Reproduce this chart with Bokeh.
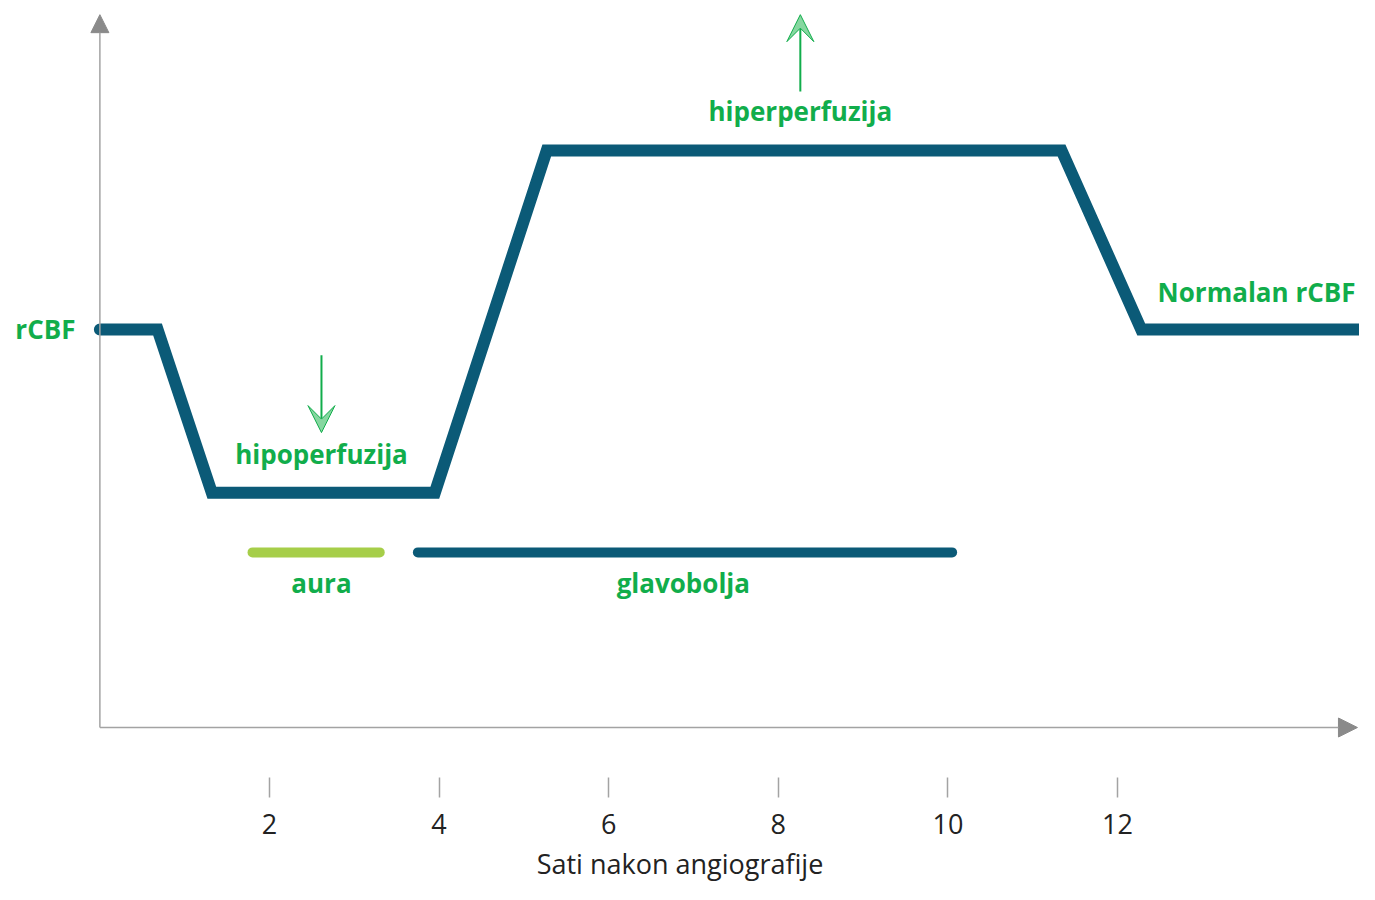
from bokeh.plotting import figure
from bokeh.models import Range1d, Arrow, VeeHead, NormalHead, Label, FixedTicker
from bokeh.embed import file_html
from bokeh.resources import INLINE

# ---- data ----
hours = [0, 0.68, 1.32, 3.95, 5.27, 11.34, 12.28, 14.95]
rcbf = [100, 100, 59, 59, 145, 145, 100, 100]
aura_hours = [1.8, 3.3]
headache_hours = [3.75, 10.05]
phase_level = [44, 44]
tick_values = [2, 4, 6, 8, 10, 12]
tick_labels = ["2", "4", "6", "8", "10", "12"]

GREEN = "#11AD4B"
TEAL = "#0B5A77"
LIME = "#A6CE49"
GRAY = "#A3A3A3"
FONT = "Open Sans"

p = figure(width=1359, height=884, output_backend="svg", toolbar_location=None,
           x_range=Range1d(-1.172, 14.854), y_range=Range1d(-12.56, 182.66),
           min_border_left=0, min_border_right=0, min_border_top=0,
           min_border_bottom=107, y_axis_location=None)
p.grid.visible = False
p.outline_line_color = None

# x axis: detached ticks and labels
ax = p.xaxis[0]
ax.ticker = FixedTicker(ticks=tick_values)
ax.major_label_overrides = {v: s for v, s in zip(tick_values, tick_labels)}
ax.axis_line_color = None
ax.major_tick_in = 0
ax.major_tick_out = 20
ax.major_tick_line_color = GRAY
ax.major_tick_line_width = 1.5
ax.minor_tick_line_color = None
ax.major_label_text_font = FONT
ax.major_label_text_font_size = "27px"
ax.major_label_text_color = "#222222"
ax.major_label_standoff = 16
ax.axis_label = "Sati nakon angiografije"
ax.axis_label_text_font = FONT
ax.axis_label_text_font_size = "27px"
ax.axis_label_text_font_style = "normal"
ax.axis_label_text_color = "#222222"
ax.axis_label_standoff = 8

# axes lines with arrows
p.add_layout(Arrow(x_start=0, y_start=0, x_end=14.83, y_end=0,
                   line_color=GRAY, line_width=1.5,
                   end=NormalHead(size=19, fill_color="#8A8A8A", line_color="#8A8A8A")))
p.add_layout(Arrow(x_start=0, y_start=0, x_end=0, y_end=179.1,
                   line_color=GRAY, line_width=1.5,
                   end=NormalHead(size=18, fill_color="#8A8A8A", line_color="#8A8A8A")))

# main rCBF line
p.line(hours, rcbf, line_color=TEAL, line_width=12, line_cap="round", line_join="miter")

# phases
p.line(aura_hours, phase_level, line_color=LIME, line_width=10, line_cap="round")
p.line(headache_hours, phase_level, line_color=TEAL, line_width=10, line_cap="round")

# green arrows
p.add_layout(Arrow(x_start=2.613, y_start=93.5, x_end=2.613, y_end=74.1,
                   line_color=GREEN, line_width=2,
                   end=VeeHead(size=27, fill_color="#86D7A0", line_color=GREEN, line_width=1)))
p.add_layout(Arrow(x_start=8.26, y_start=159.8, x_end=8.26, y_end=179.1,
                   line_color=GREEN, line_width=2,
                   end=VeeHead(size=27, fill_color="#86D7A0", line_color=GREEN, line_width=1)))

def lab(x, y, t, align="center"):
    p.add_layout(Label(x=x, y=y, text=t, text_font=FONT, text_font_size="26px",
                       text_font_style="bold", text_color=GREEN,
                       text_align=align, text_baseline="middle"))

lab(-0.288, 100, "rCBF", "right")
lab(2.613, 68.8, "hipoperfuzija")
lab(8.26, 154.8, "hiperperfuzija")
lab(13.64, 109.3, "Normalan rCBF")
lab(2.613, 36.2, "aura")
lab(6.88, 36.2, "glavobolja")

open("out.html", "w").write(file_html(p, INLINE))
